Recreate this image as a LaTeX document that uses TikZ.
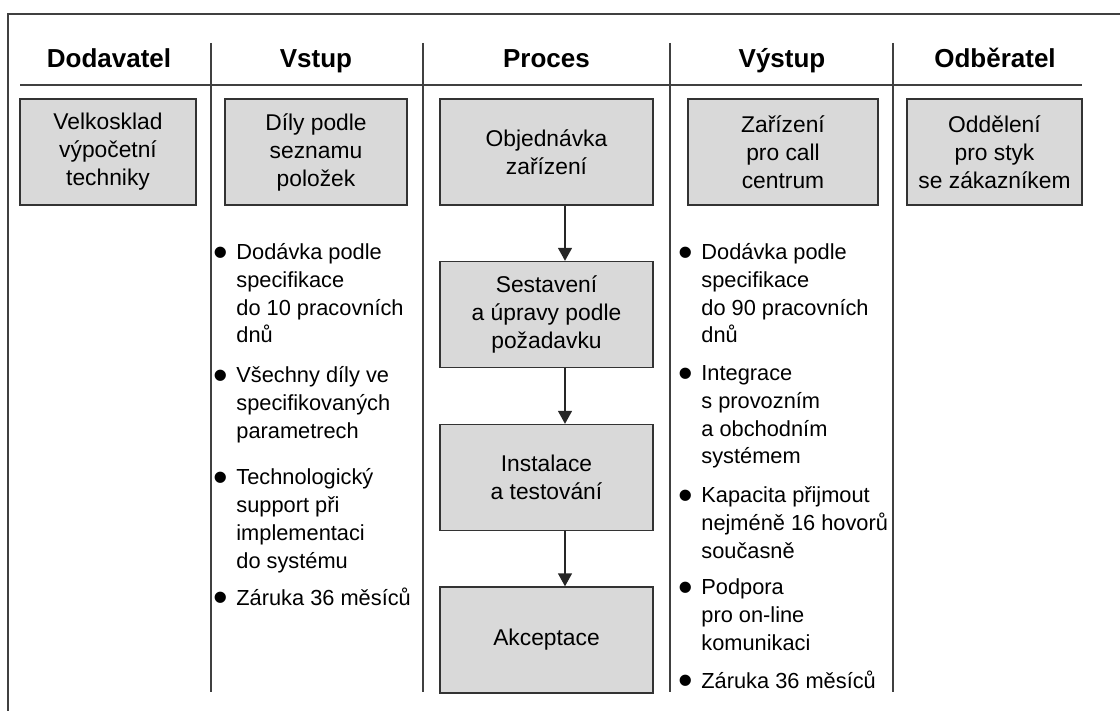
\documentclass[tikz,border=0pt]{standalone}
\usepackage{fontspec}
\setmainfont{Liberation Sans}
\usetikzlibrary{arrows.meta}
\tikzset{%
  head/.style    = {anchor=base, inner sep=0pt,%
                    font=\fontsize{13}{15}\selectfont\bfseries},%
  stage/.style   = {shape=rectangle, draw=black!80, line width=0.7pt,%
                    fill=black!15, align=center, inner sep=0pt,%
                    minimum height=53pt, font=\fontsize{11.4}{14}\selectfont},%
  bullets/.style = {anchor=base west, align=left, inner sep=0pt,%
                    font=\fontsize{10.9}{13.85}\selectfont},%
  rule/.style    = {draw=black!75, line width=0.75pt},%
  flow/.style    = {draw=black!85, line width=0.75pt,%
                    -{Triangle[width=7pt,length=6.5pt]}}%
}
\newcommand{\bul}{\llap{\raisebox{-3.3pt}{\scalebox{1.9}{\textbullet}}\hspace{4pt}}}

\begin{document}
\begin{tikzpicture}[x=0.5pt,y=-0.5pt]%
	\useasboundingbox (0,0) rectangle (1120,711);
	% frame, header rule, column rules
	\draw[rule] (8,711) -- (8,14) -- (1120,14);
	\draw[rule] (20,85) -- (1082,85);
	\foreach \x in {211,423,670,893}
		\draw[rule] (\x,43) -- (\x,692);
	% headings
	\node[head] (hsup) at (109,68) {Dodavatel};
	\node[head] (hin)  at (316,68) {Vstup};
	\node[head] (hpro) at (546.5,68) {Proces};
	\node[head] (hout) at (782,68) {Výstup};
	\node[head] (hcus) at (995,68) {Odběratel};
	% boxes
	\node[stage, minimum width=88pt]    (supplier) at (108,152)    {Velkosklad\\výpočetní\\techniky};
	\node[stage, minimum width=91pt]    (parts)    at (316,152)    {Díly podle\\seznamu\\položek};
	\node[stage, minimum width=106.5pt] (order)    at (546.5,152)  {Objednávka\\zařízení};
	\node[stage, minimum width=95pt]    (device)   at (783,152)    {Zařízení\\pro call\\centrum};
	\node[stage, minimum width=87.5pt]  (dept)     at (994.5,152)  {Oddělení\\pro styk\\se zákazníkem};
	\node[stage, minimum width=106.5pt] (build)    at (546.5,314.5){Sestavení\\a úpravy podle\\požadavku};
	\node[stage, minimum width=106.5pt] (install)  at (546.5,477.5){Instalace\\a testování};
	\node[stage, minimum width=106.5pt] (accept)   at (546.5,640)  {Akceptace};
	% flow
	\draw[flow] ([xshift=9.25pt]order.south)   -- ([xshift=9.25pt]build.north);
	\draw[flow] ([xshift=9.25pt]build.south)   -- ([xshift=9.25pt]install.north);
	\draw[flow] ([xshift=9.25pt]install.south) -- ([xshift=9.25pt]accept.north);
	% input list (placed at the baseline of the last line)
	\node[bullets] (in1) at (236,343) {\bul Dodávka podle\\specifikace\\do 10 pracovních\\dnů};
	\node[bullets] (in2) at (236,438) {\bul Všechny díly ve\\specifikovaných\\parametrech};
	\node[bullets] (in3) at (236,568) {\bul Technologický\\support při\\implementaci\\do systému};
	\node[bullets] (in4) at (236,605) {\bul Záruka 36 měsíců};
	% output list
	\node[bullets] (out1) at (701,343) {\bul Dodávka podle\\specifikace\\do 90 pracovních\\dnů};
	\node[bullets] (out2) at (701,464) {\bul Integrace\\s provozním\\a obchodním\\systémem};
	\node[bullets] (out3) at (701,558) {\bul Kapacita přijmout\\nejméně 16 hovorů\\současně};
	\node[bullets] (out4) at (701,650) {\bul Podpora\\pro on-line\\komunikaci};
	\node[bullets] (out5) at (701,688) {\bul Záruka 36 měsíců};
\end{tikzpicture}
\end{document}
